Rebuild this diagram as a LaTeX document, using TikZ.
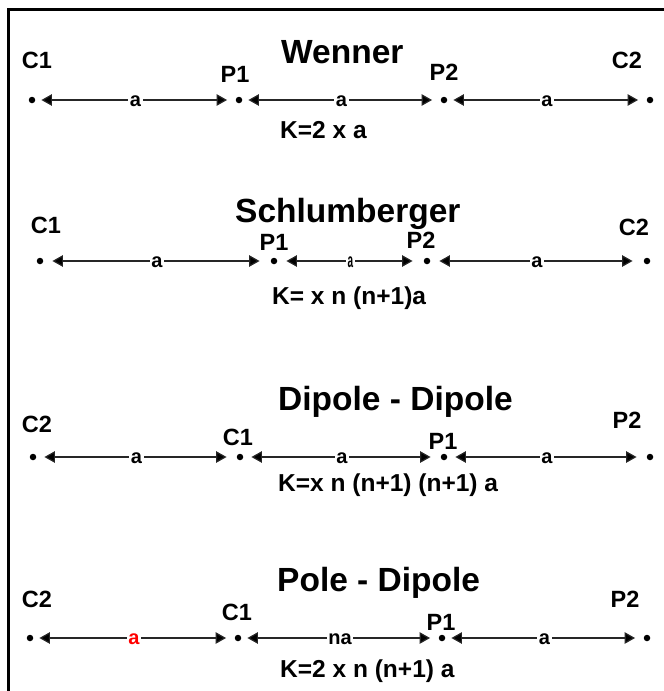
\documentclass[tikz,border=0pt]{standalone}
\usepackage{fontspec}
\setmainfont{Liberation Sans}
\usetikzlibrary{arrows.meta}
\begin{document}
\begin{tikzpicture}[x=1pt,y=-1pt,
  elec/.style={circle,fill=black,inner sep=0pt,minimum size=6.5pt},
  dim/.style={{Triangle[length=10.5pt,width=11.5pt,fill=black]}-{Triangle[length=10.5pt,width=11.5pt,fill=black]}, line width=1.2pt, draw=black!85, shorten <=6pt, shorten >=8.5pt},
  lab/.style={font=\fontsize{23.5}{23.5}\selectfont\bfseries, anchor=base, inner sep=0pt},
  ttl/.style={font=\fontsize{33.5}{33.5}\selectfont\bfseries, anchor=base west, inner sep=0pt},
  kf/.style={font=\fontsize{24.5}{24.5}\selectfont\bfseries, anchor=base west, inner sep=0pt},
  dl/.style={font=\fontsize{20}{20}\selectfont\bfseries, fill=white, inner sep=1.5pt, midway, yshift=-1pt}
]
\useasboundingbox (0,0) rectangle (664,691);
% frame
\draw[line width=3pt] (8.5,691) -- (8.5,9.5) -- (664,9.5);

% ---------- Wenner ----------
\node[ttl] (t1) at (281,63) {Wenner};
\node[elec] (w1) at (32,100) {};
\node[elec] (w2) at (239,100) {};
\node[elec] (w3) at (444,100) {};
\node[elec] (w4) at (650,100) {};
\node[lab] (wl1) at (37,68) {C1};
\node[lab] (wl2) at (235,82) {P1};
\node[lab] (wl3) at (444,80) {P2};
\node[lab] (wl4) at (627,68) {C2};
\draw[dim] (w1) -- node[dl]{a} (w2);
\draw[dim] (w2) -- node[dl]{a} (w3);
\draw[dim] (w3) -- node[dl]{a} (w4);
\node[kf] (k1) at (280,138) {K=2 x a};

% ---------- Schlumberger ----------
\node[ttl] (t2) at (235,222) {Schlumberger};
\node[elec] (s1) at (40,261) {};
\node[elec] (s2) at (274,261) {};
\node[elec] (s3) at (427,261) {};
\node[elec] (s4) at (647,261) {};
\node[lab] (sl1) at (46,233) {C1};
\node[lab] (sl2) at (274,250) {P1};
\node[lab] (sl3) at (421,248) {P2};
\node[lab] (sl4) at (634,235) {C2};
\draw[dim,shorten <=9pt,shorten >=11pt] (s1) -- node[dl]{a} (s2);
\draw[dim,shorten <=9pt,shorten >=11pt] (s2) -- node[dl]{\scalebox{0.5}[1]{a}} (s3);
\draw[dim,shorten <=9pt,shorten >=11pt] (s3) -- node[dl]{a} (s4);
\node[kf] (k2) at (272,304) {K= x n (n+1)a};

% ---------- Dipole - Dipole ----------
\node[ttl] (t3) at (278,410) {Dipole - Dipole};
\node[elec] (d1) at (33,457) {};
\node[elec] (d2) at (240,457) {};
\node[elec] (d3) at (444,457) {};
\node[elec] (d4) at (650,457) {};
\node[lab] (dl1) at (37,432) {C2};
\node[lab] (dl2) at (238,445) {C1};
\node[lab] (dl3) at (443,449) {P1};
\node[lab] (dl4) at (627,428) {P2};
\draw[dim,shorten <=8pt,shorten >=10pt] (d1) -- node[dl]{a} (d2);
\draw[dim,shorten <=8pt,shorten >=10pt] (d2) -- node[dl]{a} (d3);
\draw[dim,shorten <=8pt,shorten >=10pt] (d3) -- node[dl]{a} (d4);
\node[kf] (k3) at (278,491) {K=x n (n+1) (n+1) a};

% ---------- Pole - Dipole ----------
\node[ttl] (t4) at (277,591) {Pole - Dipole};
\node[elec] (p1) at (30,638) {};
\node[elec] (p2) at (238,638) {};
\node[elec] (p3) at (442,638) {};
\node[elec] (p4) at (647,638) {};
\node[lab] (pl1) at (37,607) {C2};
\node[lab] (pl2) at (237,620) {C1};
\node[lab] (pl3) at (441,630) {P1};
\node[lab] (pl4) at (625,607) {P2};
\draw[dim] (p1) -- node[dl,text=red]{a} (p2);
\draw[dim] (p2) -- node[dl]{na} (p3);
\draw[dim] (p3) -- node[dl]{a} (p4);
\node[kf] (k4) at (280,677) {K=2 x n (n+1) a};
\end{tikzpicture}
\end{document}
